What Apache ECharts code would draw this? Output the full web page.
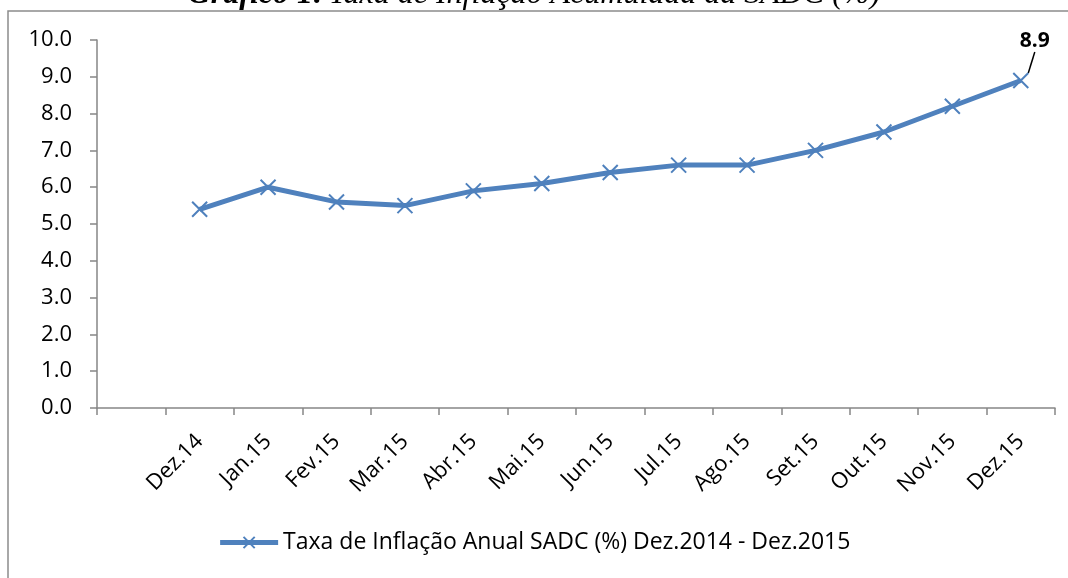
<!DOCTYPE html>
<html>
<head>
<meta charset="utf-8">
<script src="https://cdn.jsdelivr.net/npm/echarts@6/dist/echarts.min.js"></script>
<style>
  html, body { margin: 0; padding: 0; background: #fff; }
  #main { width: 1068px; height: 578px; }
</style>
</head>
<body>
<div id="main"></div>
<script>
  // categorias (a primeira fica vazia, como no gráfico original)
  var meses = ['', 'Dez.14', 'Jan.15', 'Fev.15', 'Mar.15', 'Abr.15', 'Mai.15', 'Jun.15',
    'Jul.15', 'Ago.15', 'Set.15', 'Out.15', 'Nov.15', 'Dez.15'];
  // taxa de inflação anual SADC (%)
  var taxa = ['-', 5.4, 6.0, 5.6, 5.5, 5.9, 6.1, 6.4, 6.6, 6.6, 7.0, 7.5, 8.2, 8.9];
  var serieNome = 'Taxa de Inflação Anual SADC (%) Dez.2014 - Dez.2015';

  var fonte = '"Open Sans", "Noto Sans", sans-serif';
  var serif = '"Liberation Serif", "DejaVu Serif", serif';
  var ultimo = taxa.length - 1;

  var dados = taxa.map(function (v, i) {
    if (i === ultimo) {
      return {
        value: v,
        label: { show: true, position: 'top', formatter: '{c}', fontWeight: 'bold',
          fontSize: 21, color: '#000', fontFamily: fonte },
        labelLine: { show: true, lineStyle: { color: '#000', width: 1.5 } }
      };
    }
    return v;
  });

  var chart = echarts.init(document.getElementById('main'));
  chart.setOption({
    animation: false,
    title: {
      text: '{b|Gráfico 1:} {i|Taxa de Inflação Acumulada da SADC (%)}',
      left: 'center',
      top: -26,
      textStyle: {
        rich: {
          b: { fontFamily: serif, fontStyle: 'italic', fontWeight: 'bold', fontSize: 32, color: '#000' },
          i: { fontFamily: serif, fontStyle: 'italic', fontWeight: 'normal', fontSize: 32, color: '#000' }
        }
      }
    },
    graphic: [{
      type: 'rect',
      shape: { x: 8, y: 11, width: 1100, height: 620 },
      style: { fill: 'none', stroke: '#8c8c8c', lineWidth: 1.5 },
      silent: true
    }],
    grid: { left: 97, right: 13, top: 40, bottom: 170 },
    legend: {
      bottom: 19,
      left: 'center',
      itemWidth: 58,
      itemHeight: 14,
      itemGap: 4,
      lineStyle: { width: 5 },
      textStyle: { fontFamily: fonte, fontSize: 23, color: '#000' },
      data: [serieNome]
    },
    xAxis: {
      type: 'category',
      data: meses,
      boundaryGap: true,
      axisLine: { lineStyle: { color: '#868686', width: 1.5 } },
      axisTick: { show: true, length: 7, lineStyle: { color: '#868686', width: 1.5 } },
      axisLabel: { rotate: 45, interval: 0, fontFamily: fonte, fontSize: 22, color: '#000', margin: 30 }
    },
    yAxis: {
      type: 'value',
      min: 0,
      max: 10,
      interval: 1,
      axisLine: { show: true, lineStyle: { color: '#868686', width: 1.5 } },
      axisTick: { show: true, length: 7, lineStyle: { color: '#868686', width: 1.5 } },
      splitLine: { show: false },
      axisLabel: {
        fontFamily: fonte, fontSize: 22, color: '#000', margin: 25,
        formatter: function (v) { return v.toFixed(1); }
      }
    },
    series: [{
      name: serieNome,
      type: 'line',
      data: dados,
      symbol: 'path://M0,0L10,10M10,0L0,10',
      symbolSize: 15,
      showAllSymbol: true,
      lineStyle: { color: '#4F81BD', width: 5 },
      itemStyle: { color: '#4F81BD', borderColor: '#4F81BD', borderWidth: 2 },
      labelLayout: function (p) {
        if (p.dataIndex === ultimo) {
          return { dx: 14, dy: -15 };
        }
      }
    }]
  });
</script>
</body>
</html>
